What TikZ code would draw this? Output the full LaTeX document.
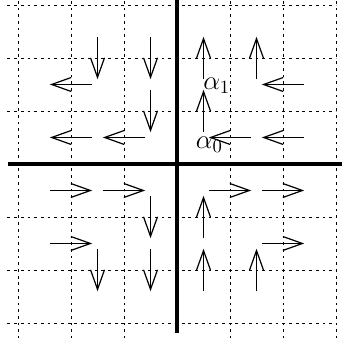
\documentclass[tikz,border=0pt]{standalone}
\usetikzlibrary{arrows.meta}
\tikzset{
  gridline/.style={line width=0.5pt, dash pattern=on 1.5pt off 2.1pt},
  axisline/.style={line width=2.2pt},
  vec/.style={line width=0.65pt, -{Straight Barb[length=10.5pt,width=7.5pt]}, shorten <=0.1cm, shorten >=0.1cm},
  lab/.style={inner sep=0pt, font=\fontsize{14}{16}\selectfont}
}
\begin{document}
\begin{tikzpicture}
\useasboundingbox (-3.34,-3.283) rectangle (3.113,3.094);
% dotted grid
\foreach \y in {-3,-2,-1,1,2,3}
  \draw[gridline] (-3.2,\y) -- (3.0,\y);
\foreach \x in {-3,-2,-1,1,2,3}
  \draw[gridline] (\x,-3.3) -- (\x,3.15);
% axes
\draw[axisline] (-3.18,0) -- (3.15,0);
\draw[axisline] (0,3.15) -- (0,-3.19);
% cell centres
\foreach \i in {1,...,6}
  \foreach \j in {1,...,6}
    \coordinate (c\i\j) at (\i-3.5,\j-3.5);
% vector field
\foreach \a/\b in {26/25,36/35,25/15,35/34,24/14,34/24,
                   45/46,55/56,65/55,44/45,54/44,64/54,
                   13/23,23/33,33/32,12/22,22/21,32/31,
                   43/53,53/63,42/43,52/62,41/42,51/52}
  \draw[vec] (c\a) -- (c\b);
% labels
\node[lab] (a1) at (0.75,1.47) {$\alpha_1$};
\node[lab] (a0) at (0.61,0.36) {$\alpha_0$};
\end{tikzpicture}
\end{document}
